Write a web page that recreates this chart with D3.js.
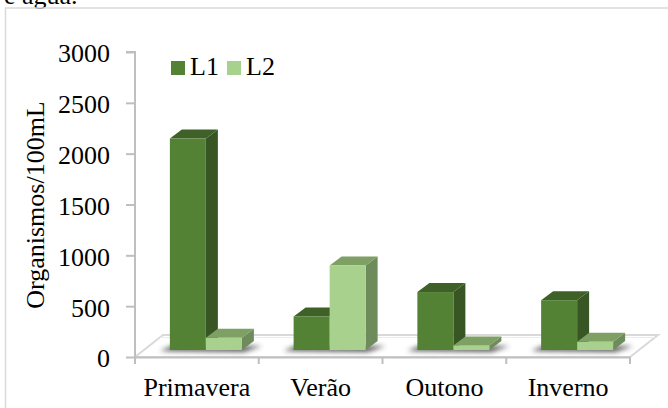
<!DOCTYPE html>
<html>
<head>
<meta charset="utf-8">
<script src="https://cdn.jsdelivr.net/npm/d3@7"></script>
<style>
  html, body { margin: 0; padding: 0; background: #fff; }
  svg { display: block; }
  text { font-family: "Liberation Serif", "Times New Roman", serif; fill: #000; }
</style>
</head>
<body>
<svg id="chart" width="668" height="408"></svg>
<script>
// Seasonal counts (organisms per 100 mL) at two sites
const categories = ["Primavera", "Verão", "Outono", "Inverno"];
const series = ["L1", "L2"];
const valuesL1 = [2080, 330, 570, 490];
const valuesL2 = [120, 830, 45, 80];
const yTicks = [0, 500, 1000, 1500, 2000, 2500, 3000];
const yTitle = "Organismos/100mL";

const colors = {
  L1: { front: "#548235", top: "#3f6128", side: "#375623" },
  L2: { front: "#a9d18e", top: "#7fa065", side: "#6e8b5b" }
};

const svg = d3.select("#chart");

// Caption line of the surrounding text, clipped at the page top
svg.append("text").attr("x", 4).attr("y", 4).style("font-size", "26px").text("e água.");

// Chart frame
svg.append("rect").attr("x", 5.5).attr("y", 8).attr("width", 700).attr("height", 500)
  .attr("fill", "none").attr("stroke", "#d9d9d9").attr("stroke-width", 1.5);

const plotLeft = 135, plotRight = 630, plotBottom = 357, plotTop = 52;
const floorDx = 28, floorDy = -22;      // depth of the floor
const barShiftX = 9, barShiftY = -7;    // bars stand in the middle of the floor
const depthX = 12, depthY = -9;         // depth of each bar

const x = d3.scaleBand().domain(categories).range([plotLeft, plotRight]);
const y = d3.scaleLinear().domain([0, 3000]).range([plotBottom, plotTop]);
const inner = d3.scaleBand().domain(series).range([-36, 36]);

const defs = svg.append("defs");
defs.append("filter").attr("id", "soft").attr("x", "-50%").attr("y", "-200%")
  .attr("width", "200%").attr("height", "500%")
  .append("feGaussianBlur").attr("stdDeviation", 2.5);

// Floor
const floor = svg.append("g");
floor.append("path")
  .attr("d", `M${plotLeft},${plotBottom}L${plotLeft + floorDx},${plotBottom + floorDy}L${plotRight + floorDx},${plotBottom + floorDy}L${plotRight},${plotBottom}Z`)
  .attr("fill", "#fff").attr("stroke", "#d9d9d9").attr("stroke-width", 2);
floor.append("line")
  .attr("x1", plotLeft + floorDx - 3).attr("x2", plotRight + floorDx - 3)
  .attr("y1", plotBottom + floorDy + 2.5).attr("y2", plotBottom + floorDy + 2.5)
  .attr("stroke", "#ececec").attr("stroke-width", 1);

// Y axis
const yAxis = svg.append("g").attr("transform", `translate(${plotLeft},0)`)
  .call(d3.axisLeft(y).tickValues(yTicks).tickSize(9).tickPadding(16).tickFormat(d3.format("d")));
yAxis.select(".domain").attr("stroke", "#bfbfbf").attr("stroke-width", 2)
  .attr("d", `M-9,${plotTop}H0V${plotBottom + 1}`);
yAxis.selectAll(".tick line").attr("stroke", "#bfbfbf").attr("stroke-width", 2);
yAxis.selectAll("text").style("font-size", "26px").attr("dy", "0.38em")
  .style("font-family", "'Liberation Serif', serif").attr("fill", "#000");

// X axis: labels centred in each band, tick marks on the band edges
const xAxis = svg.append("g").attr("transform", `translate(0,${plotBottom})`)
  .call(d3.axisBottom(x).tickSize(0).tickPadding(21));
xAxis.select(".domain").attr("stroke", "#bfbfbf").attr("stroke-width", 2);
xAxis.selectAll("text").style("font-size", "26px")
  .style("font-family", "'Liberation Serif', serif").attr("fill", "#000");
const edges = categories.map(c => x(c)).concat([x(categories[categories.length - 1]) + x.bandwidth()]);
xAxis.selectAll(".edge").data(edges).join("line").attr("class", "edge")
  .attr("x1", d => d).attr("x2", d => d).attr("y1", 0).attr("y2", 7)
  .attr("stroke", "#bfbfbf").attr("stroke-width", 2);

// Bars
const rows = categories.map((c, i) => ({ cat: c, L1: valuesL1[i], L2: valuesL2[i] }));
const base = y(0) + barShiftY;
const barY = v => y(v) + barShiftY;

const groups = svg.append("g").selectAll("g").data(rows).join("g")
  .attr("transform", d => `translate(${x(d.cat) + x.bandwidth() / 2 + barShiftX},0)`);

// soft contact shadow on the floor
groups.append("path")
  .attr("d", `M${inner("L1") - 10},${base + 1}L${inner("L1") + 2},${base - 4}L${inner("L2") + inner.bandwidth() + depthX + 8},${base - 4}L${inner("L2") + inner.bandwidth() + 2},${base + 2}Z`)
  .attr("fill", "#3a3a3a").attr("opacity", 0.85).attr("filter", "url(#soft)");

series.forEach(s => {
  const g = groups.append("g");
  const x0 = inner(s), x1 = inner(s) + inner.bandwidth();
  g.append("path").attr("fill", colors[s].side)
    .attr("d", d => `M${x1},${barY(d[s])}L${x1 + depthX},${barY(d[s]) + depthY}L${x1 + depthX},${base + depthY}L${x1},${base}Z`);
  g.append("path").attr("fill", colors[s].top)
    .attr("d", d => `M${x0},${barY(d[s])}L${x0 + depthX},${barY(d[s]) + depthY}L${x1 + depthX},${barY(d[s]) + depthY}L${x1},${barY(d[s])}Z`);
  g.append("rect").attr("fill", colors[s].front)
    .attr("x", x0).attr("width", x1 - x0)
    .attr("y", d => barY(d[s])).attr("height", d => base - barY(d[s]));
});

// Y axis title
svg.append("text")
  .attr("transform", "translate(44,205) rotate(-90)")
  .attr("text-anchor", "middle").style("font-size", "26px").text(yTitle);

// Legend
const legend = svg.append("g").attr("transform", "translate(171,61)");
const items = legend.selectAll("g").data(series).join("g")
  .attr("transform", (d, i) => `translate(${i * 56},0)`);
items.append("rect").attr("width", 14).attr("height", 14).attr("fill", d => colors[d].front);
items.append("text").attr("x", 19).attr("y", 14).style("font-size", "26px").text(d => d);
</script>
</body>
</html>
